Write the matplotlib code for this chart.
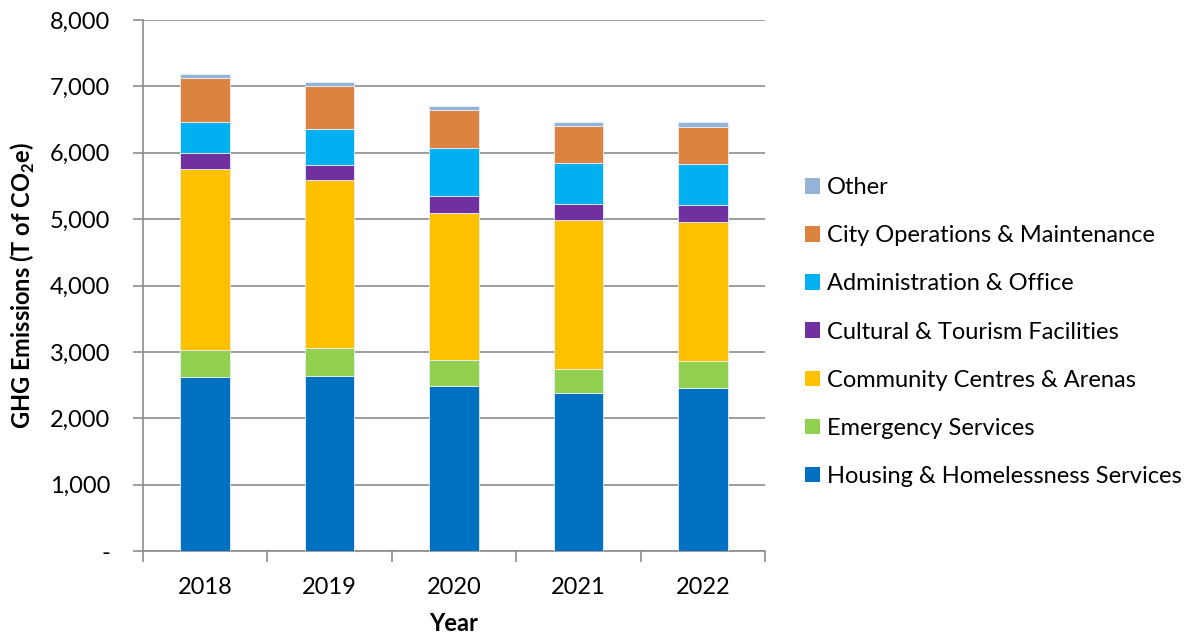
import matplotlib
matplotlib.use('Agg')
import matplotlib.pyplot as plt
from matplotlib.patches import Patch
from matplotlib.ticker import FuncFormatter

years = ['2018', '2019', '2020', '2021', '2022']
housing = [2617, 2643, 2486, 2377, 2456]
emergency = [416, 410, 397, 371, 412]
community = [2718, 2542, 2216, 2246, 2096]
cultural = [240, 225, 251, 236, 251]
admin = [470, 531, 716, 611, 611]
city_ops = [665, 655, 580, 560, 565]
other = [66, 66, 55, 60, 65]

series = [
    ('Housing & Homelessness Services', housing, '#0070C0'),
    ('Emergency Services', emergency, '#92D050'),
    ('Community Centres & Arenas', community, '#FFC000'),
    ('Cultural & Tourism Facilities', cultural, '#7030A0'),
    ('Administration & Office', admin, '#00B0F0'),
    ('City Operations & Maintenance', city_ops, '#DC843F'),
    ('Other', other, '#95B3D7'),
]

plt.rcParams['font.family'] = ['Lato', 'DejaVu Sans']
fs = 17

fig = plt.figure(figsize=(11.98, 6.38), dpi=100)
ax = fig.add_axes([143 / 1198, 1 - 551 / 638, 622 / 1198, 531 / 638])

x = list(range(len(years)))
bottom = [0] * len(years)
for name, vals, col in series:
    ax.bar(x, vals, width=0.4, bottom=bottom, color=col, edgecolor='#e8eef8', linewidth=0.6, zorder=3)
    bottom = [b + v for b, v in zip(bottom, vals)]

ax.set_xlim(-0.5, 4.5)
ax.set_ylim(0, 8000)
ax.set_yticks(range(0, 8001, 1000))
ax.yaxis.set_major_formatter(FuncFormatter(lambda v, p: '-' if v == 0 else f'{int(v):,}'))
ax.grid(axis='y', color='#8c8c8c', linewidth=1.2, zorder=0)
ax.set_xticks(x)
ax.set_xticklabels(years)
ax.set_xticks([i - 0.5 for i in range(len(years) + 1)], minor=True)
ax.tick_params(axis='x', which='major', length=0, labelsize=fs, pad=19)
ax.tick_params(axis='x', which='minor', length=8, direction='out', color='#8c8c8c', width=1.2)
ax.tick_params(axis='y', length=7.5, color='#8c8c8c', width=1.2, labelsize=fs, pad=16)

for s in ['top', 'right']:
    ax.spines[s].set_visible(False)
for s in ['left', 'bottom']:
    ax.spines[s].set_color('#8c8c8c')
    ax.spines[s].set_linewidth(1.2)

ax.set_ylabel('GHG Emissions (T of CO$_\\mathregular{2}$e)', fontsize=fs, fontweight='bold', labelpad=9)
ax.set_xlabel('Year', fontsize=fs, fontweight='bold', labelpad=10)

handles = [Patch(facecolor=col, edgecolor='none') for name, vals, col in series][::-1]
labels = [name for name, vals, col in series][::-1]
fig.legend(handles, labels, loc='center left', bbox_to_anchor=(805 / 1198, 1 - 332 / 638),
           frameon=False, fontsize=fs, handlelength=0.64, handleheight=0.64,
           handletextpad=0.3, labelspacing=1.15, borderpad=0, borderaxespad=0)

plt.savefig('out.png', dpi=100)
